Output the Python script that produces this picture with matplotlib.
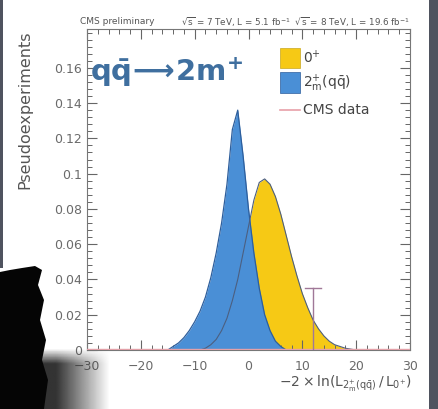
import numpy as np
import matplotlib
matplotlib.use("Agg")
import matplotlib.pyplot as plt
from matplotlib.patches import Rectangle, Polygon
from matplotlib.ticker import MultipleLocator, FuncFormatter

# ---- data ----
x_blue = [-15, -14, -13, -12, -11, -10, -9, -8, -7, -6, -5, -4, -3, -2, -1, 0, 1, 2, 3, 4, 5, 6, 7]
blue = [0.000, 0.002, 0.004, 0.007, 0.011, 0.016, 0.022, 0.030, 0.041, 0.055, 0.072, 0.094, 0.125,
        0.136, 0.110, 0.080, 0.055, 0.035, 0.020, 0.011, 0.005, 0.002, 0.000]

x_yel = [-9, -8, -7, -6, -5, -4, -3, -2, -1, 0, 1, 2, 3, 4, 5, 6, 7, 8, 9, 10,
         11, 12, 13, 14, 15, 16, 17, 18, 19, 20]
yel = [0.000, 0.001, 0.003, 0.006, 0.011, 0.018, 0.028, 0.040, 0.055, 0.070, 0.085, 0.095, 0.097,
       0.094, 0.087, 0.077, 0.065, 0.053, 0.042, 0.032, 0.024, 0.017, 0.012, 0.008, 0.005,
       0.003, 0.002, 0.001, 0.0005, 0.000]

cms_x = 12.0
cms_y = 0.035

xticks = [-30, -20, -10, 0, 10, 20, 30]
yticks = [0, 0.02, 0.04, 0.06, 0.08, 0.1, 0.12, 0.14, 0.16]

W, H = 438, 409
def fx(p): return p / W
def fy(p): return 1 - p / H

plt.rcParams['mathtext.fontset'] = 'dejavusans'
plt.rcParams['mathtext.default'] = 'regular'

fig = plt.figure(figsize=(4.38, 4.09), dpi=100, facecolor='white')
ax = fig.add_axes([fx(87), fy(350), fx(410) - fx(87), fy(29) - fy(350)])
ax.set_xlim(-30, 30)
ax.set_ylim(0, 0.182)

YEL = '#f6c915'
BLU = '#4a8fd6'
ax.fill_between(x_yel, yel, 0, color=YEL, lw=0, zorder=1)
ax.fill_between(x_blue, blue, 0, color=BLU, lw=0, zorder=2)
ax.plot(x_blue, blue, color='#2d5e9c', lw=0.9, zorder=3)
ax.plot(x_yel, yel, color='#4c5f80', lw=0.8, zorder=3)
ax.axhline(0.0004, color='#e3a0a8', lw=1.0, zorder=4)

DATA_C = '#a07898'
ax.plot([cms_x, cms_x], [0, cms_y], color=DATA_C, lw=1.0, zorder=5)
ax.plot([cms_x - 1.5, cms_x + 1.5], [cms_y, cms_y], color=DATA_C, lw=1.0, zorder=5)

ax.set_xticks(xticks)
ax.set_yticks(yticks)
ax.xaxis.set_minor_locator(MultipleLocator(2))
ax.yaxis.set_minor_locator(MultipleLocator(0.004))
ax.yaxis.set_major_formatter(FuncFormatter(lambda v, p: '%g' % v))
ax.tick_params(which='both', direction='in', top=True, right=True, colors='#666666',
               labelcolor='#6a6a6a', labelsize=9)
ax.tick_params(which='major', length=7, width=0.8)
ax.tick_params(which='minor', length=3.5, width=0.7)
ax.tick_params(axis='x', pad=7)
for s in ax.spines.values():
    s.set_color('#777777')
    s.set_linewidth(0.8)

# big label
ax.text(0.01, 0.865, r'$\mathbf{q\bar{q}\!\longrightarrow\! 2m^{+}}$', transform=ax.transAxes,
        fontsize=21, color='#3f6f9f', ha='left', va='center', zorder=6)

# legend (manual)
fig.patches.append(Rectangle((fx(280), fy(68)), fx(20), fy(48) - fy(68), transform=fig.transFigure,
                             facecolor=YEL, edgecolor='#c9a820', lw=0.5, zorder=10))
fig.patches.append(Rectangle((fx(280), fy(93)), fx(20), fy(72) - fy(93), transform=fig.transFigure,
                             facecolor=BLU, edgecolor='#2d5e9c', lw=0.5, zorder=10))
fig.lines.append(plt.Line2D([fx(280), fx(300)], [fy(110), fy(110)], transform=fig.transFigure,
                            color='#e8a0a8', lw=1.2, zorder=10))
fig.text(fx(303), fy(58), r'$0^{+}$', fontsize=10, color='#444444', va='center')
fig.text(fx(303), fy(83), r'$2^{+}_{m}(q\bar{q})$', fontsize=10, color='#444444', va='center')
fig.text(fx(303), fy(110), 'CMS data', fontsize=10, color='#444444', va='center')

# header
fig.text(fx(80), fy(22), 'CMS preliminary', fontsize=6.5, color='#555555', va='center')
fig.text(fx(410), fy(22), r'$\sqrt{s}$ = 7 TeV, L = 5.1 fb$^{-1}$  $\sqrt{s}$ = 8 TeV, L = 19.6 fb$^{-1}$',
         fontsize=6.3, color='#555555', va='center', ha='right')

# axis titles
fig.text(fx(25), fy(110), 'Pseudoexperiments', rotation=90, fontsize=11.5, color='#555555',
         ha='center', va='center')
fig.text(fx(412), fy(384), r'$-2\times\ln(L_{2^{+}_{m}(q\bar{q})}\,/\,L_{0^{+}})$', fontsize=10,
         color='#555555', ha='right', va='center')

# photo-frame decorations
fig.patches.append(Rectangle((fx(429), 0), 1 - fx(429), 1, transform=fig.transFigure,
                             facecolor='#4f535f', lw=0, zorder=20))
fig.patches.append(Rectangle((0, fy(268)), fx(3), 1 - fy(268), transform=fig.transFigure,
                             facecolor='#4f535f', lw=0, zorder=20))
gax = fig.add_axes([fx(40), 0, fx(110) - fx(40), fy(348)], zorder=15)
gx = np.linspace(0, 1, 60)
gy = np.linspace(0, 1, 40)
GX, GY = np.meshgrid(gx, gy)
alpha = np.clip(1.3 - 1.3 * GX, 0, 1) * np.clip(GY * 4, 0, 1)
img = np.zeros((40, 60, 4))
img[..., 0:3] = 0.2
img[..., 3] = alpha
gax.imshow(img, extent=[0, 1, 1, 0], aspect='auto')
gax.axis('off')
blob = [(0, 409), (0, 272), (10, 270), (22, 268), (35, 266), (42, 270), (38, 285), (44, 300),
        (40, 320), (46, 340), (42, 360), (48, 380), (44, 409)]
fig.patches.append(Polygon([(fx(a), fy(b)) for a, b in blob], closed=True, transform=fig.transFigure,
                           facecolor='#050505', lw=0, zorder=21))

fig.savefig('out.png', dpi=100, facecolor='white')
